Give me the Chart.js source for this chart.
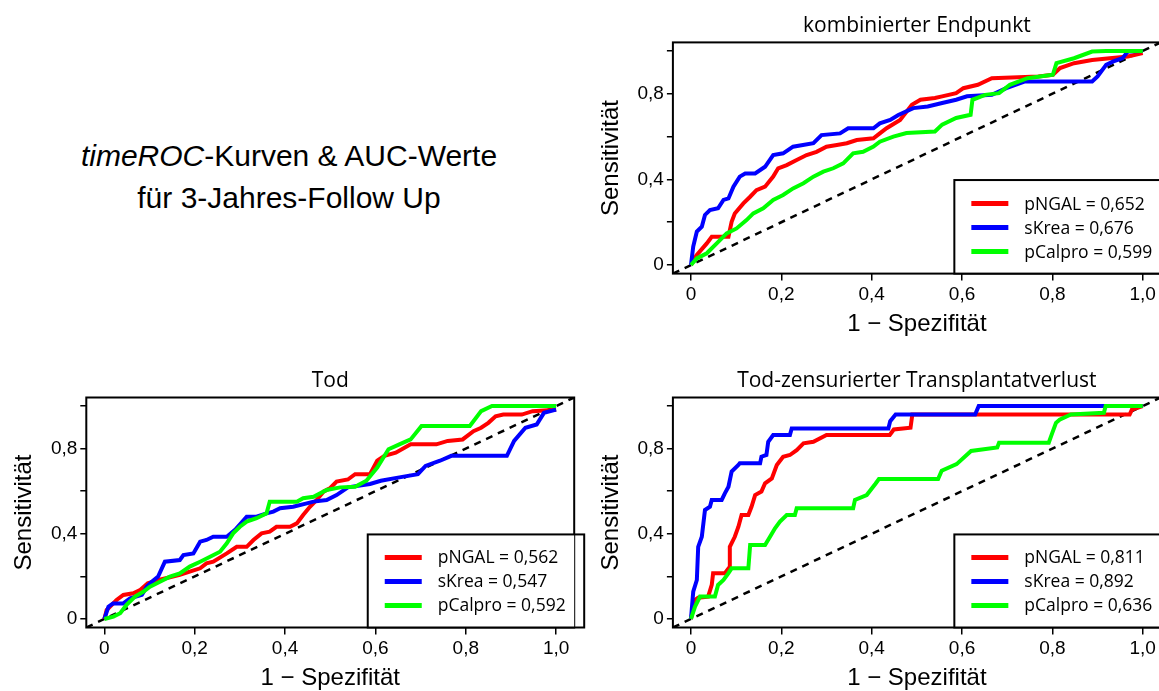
<!DOCTYPE html>
<html><head><meta charset="utf-8">
<script src="https://cdn.jsdelivr.net/npm/chart.js@4.4.0/dist/chart.umd.min.js"></script>
<style>
html,body{margin:0;padding:0;background:#fff;overflow:hidden;width:1159px;height:691px;}
#mainTitle{position:absolute;left:0;top:134.6px;width:578px;text-align:center;font-family:"Liberation Sans",Arial,sans-serif;font-size:30px;line-height:42px;color:#000;}
canvas{position:absolute;}
</style></head><body>
<div id="mainTitle"><i>timeROC</i>-Kurven &amp; AUC-Werte<br>für 3-Jahres-Follow Up</div>
<canvas id="cA" width="600" height="345" style="left:590px;top:0px"></canvas>
<canvas id="cB" width="590" height="345" style="left:0px;top:355px"></canvas>
<canvas id="cC" width="600" height="345" style="left:590px;top:355px"></canvas>
<script>
// ---------- categories / labels ----------
const seriesNames = ['pNGAL', 'sKrea', 'pCalpro'];
const plotTitles = ['kombinierter Endpunkt', 'Tod', 'Tod-zensurierter Transplantatverlust'];
const aucKomb = ['0,652', '0,676', '0,599'];
const aucTod = ['0,562', '0,547', '0,592'];
const aucTzt = ['0,811', '0,892', '0,636'];
const xTickValues = [0, 0.2, 0.4, 0.6, 0.8, 1.0];
const xTickLabels = ['0', '0,2', '0,4', '0,6', '0,8', '1,0'];
const yTickValues = [0, 0.2, 0.4, 0.6, 0.8, 1.0];
const yTickLabels = ['0', '', '0,4', '', '0,8', ''];
const refLine = [-0.04, 1.04];

// ---------- kombinierter Endpunkt ----------
const kombX_pNGAL = [0,0.012,0.035,0.046,0.083,0.09,0.097,0.116,0.131,0.145,0.164,0.182,0.193,0.212,0.234,0.256,0.278,0.300,0.323,0.345,0.367,0.404,0.418,0.433,0.463,0.489,0.508,0.540,0.556,0.587,0.603,0.635,0.666,0.769,0.801,0.817,0.848,0.888,0.927,0.967,1.0];
const kombY_pNGAL = [0,0.045,0.101,0.132,0.132,0.202,0.241,0.288,0.319,0.35,0.366,0.413,0.452,0.467,0.491,0.514,0.529,0.553,0.561,0.569,0.584,0.592,0.615,0.639,0.678,0.749,0.772,0.780,0.788,0.803,0.826,0.842,0.873,0.881,0.889,0.920,0.943,0.958,0.966,0.974,0.99];
const kombX_sKrea = [0,0.005,0.013,0.024,0.031,0.042,0.06,0.072,0.083,0.094,0.108,0.12,0.142,0.164,0.182,0.204,0.226,0.271,0.289,0.33,0.348,0.404,0.418,0.441,0.459,0.492,0.524,0.556,0.587,0.611,0.666,0.698,0.738,0.888,0.900,0.919,0.935,0.955,0.967,1.0];
const kombY_sKrea = [0,0.086,0.156,0.179,0.234,0.257,0.265,0.304,0.311,0.366,0.413,0.428,0.428,0.459,0.514,0.522,0.553,0.569,0.607,0.615,0.639,0.639,0.662,0.678,0.701,0.733,0.741,0.757,0.772,0.788,0.795,0.826,0.857,0.857,0.881,0.935,0.951,0.966,0.997,1.0];
const kombX_pCalpro = [0,0.013,0.035,0.057,0.079,0.101,0.123,0.138,0.16,0.182,0.204,0.226,0.249,0.271,0.293,0.315,0.337,0.359,0.381,0.404,0.418,0.448,0.477,0.540,0.556,0.587,0.619,0.623,0.651,0.682,0.706,0.745,0.801,0.809,0.848,0.888,0.919,1.0];
const kombY_pCalpro = [0,0.031,0.055,0.101,0.148,0.171,0.21,0.241,0.265,0.304,0.327,0.358,0.382,0.413,0.436,0.452,0.475,0.522,0.529,0.553,0.576,0.60,0.617,0.624,0.656,0.687,0.702,0.772,0.795,0.803,0.842,0.873,0.889,0.943,0.966,0.997,1.0,1.0];

// ---------- Tod ----------
const todX_pNGAL = [0,0.005,0.027,0.042,0.064,0.08,0.096,0.12,0.145,0.167,0.189,0.212,0.226,0.241,0.271,0.293,0.315,0.33,0.348,0.366,0.381,0.411,0.426,0.44,0.455,0.47,0.485,0.5,0.514,0.539,0.555,0.588,0.604,0.62,0.645,0.678,0.735,0.76,0.793,0.817,0.834,0.85,0.866,0.883,0.924,0.948,1.0];
const todY_pNGAL = [0,0.042,0.089,0.113,0.121,0.137,0.168,0.183,0.196,0.207,0.222,0.238,0.261,0.269,0.308,0.339,0.339,0.371,0.402,0.41,0.433,0.433,0.449,0.488,0.527,0.559,0.598,0.615,0.645,0.655,0.68,0.68,0.743,0.766,0.781,0.82,0.82,0.836,0.843,0.882,0.898,0.921,0.952,0.96,0.96,0.976,0.983];
const todX_sKrea = [0,0.009,0.019,0.042,0.057,0.083,0.094,0.105,0.119,0.134,0.167,0.175,0.197,0.212,0.226,0.241,0.271,0.29,0.315,0.337,0.359,0.374,0.389,0.418,0.448,0.463,0.492,0.514,0.539,0.588,0.612,0.653,0.694,0.711,0.743,0.768,0.891,0.907,0.932,0.957,0.973,1.0];
const todY_sKrea = [0,0.058,0.073,0.073,0.097,0.113,0.152,0.175,0.199,0.269,0.277,0.30,0.308,0.363,0.371,0.386,0.386,0.42,0.48,0.48,0.496,0.504,0.52,0.527,0.543,0.551,0.559,0.582,0.618,0.634,0.649,0.665,0.68,0.719,0.743,0.766,0.766,0.836,0.898,0.913,0.968,0.983];
const todX_pCalpro = [0,0.02,0.035,0.049,0.068,0.086,0.101,0.123,0.145,0.167,0.189,0.212,0.234,0.256,0.271,0.285,0.30,0.315,0.337,0.359,0.366,0.426,0.44,0.463,0.492,0.522,0.555,0.58,0.604,0.629,0.653,0.678,0.702,0.809,0.834,0.858,1.0];
const todY_pCalpro = [0,0.011,0.027,0.066,0.105,0.128,0.152,0.175,0.199,0.214,0.246,0.269,0.292,0.316,0.355,0.402,0.433,0.457,0.473,0.496,0.551,0.551,0.567,0.574,0.606,0.618,0.621,0.649,0.711,0.797,0.82,0.843,0.906,0.906,0.976,1.0,1.0];

// ---------- Tod-zensurierter Transplantatverlust ----------
const tztX_pNGAL = [0,0.009,0.016,0.038,0.046,0.049,0.075,0.086,0.086,0.097,0.105,0.112,0.127,0.134,0.142,0.156,0.164,0.179,0.19,0.204,0.219,0.234,0.249,0.271,0.30,0.44,0.449,0.486,0.49,0.971,0.976,1.0];
const tztY_pNGAL = [0,0.089,0.1,0.105,0.16,0.215,0.215,0.246,0.339,0.386,0.433,0.488,0.488,0.527,0.582,0.598,0.637,0.66,0.723,0.762,0.77,0.793,0.825,0.832,0.864,0.864,0.89,0.898,0.96,0.96,0.983,1.0];
const tztX_sKrea = [0,0.005,0.013,0.016,0.024,0.031,0.042,0.046,0.068,0.075,0.083,0.09,0.105,0.108,0.153,0.156,0.167,0.171,0.182,0.219,0.223,0.437,0.441,0.453,0.629,0.637,1.0];
const tztY_sKrea = [0,0.128,0.183,0.339,0.386,0.512,0.527,0.559,0.559,0.59,0.621,0.692,0.723,0.731,0.731,0.762,0.77,0.832,0.864,0.864,0.895,0.895,0.929,0.96,0.96,1.0,1.0];
const tztX_pCalpro = [0,0.009,0.02,0.053,0.06,0.072,0.083,0.09,0.127,0.131,0.164,0.175,0.186,0.197,0.212,0.23,0.234,0.359,0.363,0.389,0.408,0.416,0.547,0.555,0.588,0.620,0.678,0.682,0.792,0.800,0.808,0.816,0.841,0.914,0.918,1.0];
const tztY_pCalpro = [0,0.058,0.105,0.105,0.16,0.183,0.215,0.238,0.238,0.347,0.347,0.386,0.426,0.457,0.488,0.488,0.52,0.52,0.559,0.582,0.634,0.657,0.657,0.696,0.727,0.789,0.805,0.828,0.828,0.875,0.921,0.936,0.96,0.968,1.0,1.0];

const seriesColors = ['#ff0000', '#0000ff', '#00ff00'];

function pts(xs, ys) { return xs.map((x, i) => ({ x: x, y: ys[i] })); }

const framePlugin = {
  id: 'frame',
  afterDraw(chart, args, o) {
    const ctx = chart.ctx, a = chart.chartArea, sx = chart.scales.x, sy = chart.scales.y;
    ctx.save();
    ctx.strokeStyle = '#000';
    ctx.lineWidth = 2;
    ctx.strokeRect(a.left, a.top, a.right - a.left, a.bottom - a.top);
    // legend
    const lx = sx.getPixelForValue(o.legendX);
    const ly = sy.getPixelForValue(o.legendY);
    ctx.fillStyle = '#fff';
    ctx.fillRect(lx, ly, a.right - lx, a.bottom - ly);
    ctx.strokeRect(lx, ly, a.right - lx + 10, a.bottom - ly);
    const rows = [70, 46, 22];
    ctx.font = '17.5px "Open Sans"';
    ctx.textBaseline = 'middle';
    ctx.textAlign = 'left';
    for (let i = 0; i < 3; i++) {
      const yy = a.bottom - rows[i];
      ctx.strokeStyle = seriesColors[i];
      ctx.lineWidth = 5;
      ctx.beginPath(); ctx.moveTo(lx + 17, yy); ctx.lineTo(lx + 54, yy); ctx.stroke();
      ctx.fillStyle = '#000';
      ctx.fillText(o.labels[i], lx + 70, yy + 1);
    }
    // plot title, centred over the plot box
    ctx.font = '21px "Open Sans"';
    ctx.textAlign = 'center';
    ctx.textBaseline = 'alphabetic';
    ctx.fillStyle = '#000';
    ctx.fillText(o.title, (a.left + a.right) / 2, a.top - 10.5);
    ctx.restore();
  }
};

function makePlot(id, cw, ch, area, xs, ys, labels, title, yTitlePad, xTitlePad) {
  const datasets = [];
  for (let i = 0; i < 3; i++) {
    datasets.push({ data: pts(xs[i], ys[i]), borderColor: seriesColors[i], borderWidth: 4, showLine: true, pointRadius: 0, tension: 0, order: 3 - i });
  }
  datasets.push({ data: pts(refLine, refLine), borderColor: '#000', borderWidth: 2.5, borderDash: [7, 6], showLine: true, pointRadius: 0, order: 10 });
  const tickFont = { family: '"Liberation Sans", Arial, sans-serif', size: 19 };
  const titleFont = { family: '"Liberation Sans", Arial, sans-serif', size: 24 };
  new Chart(document.getElementById(id), {
    type: 'scatter',
    data: { datasets: datasets },
    options: {
      responsive: false, animation: false, devicePixelRatio: 1,
      layout: { padding: { left: 0, top: area.top, right: cw - area.right, bottom: 0 } },
      plugins: {
        legend: { display: false }, tooltip: { enabled: false },
        frame: { legendX: 0.583, legendY: 0.397, labels: labels, title: title }
      },
      scales: {
        x: {
          type: 'linear', min: -0.04, max: 1.04,
          afterBuildTicks: s => { s.ticks = xTickValues.map(v => ({ value: v })); },
          afterFit: s => { s.height = ch - area.bottom; },
          ticks: { autoSkip: false, maxRotation: 0, padding: 2.6, color: '#000', font: tickFont, callback: (v, i) => xTickLabels[i] },
          grid: { display: true, drawOnChartArea: false, drawTicks: true, tickLength: 7, color: '#000', lineWidth: 1.5 },
          border: { display: false },
          title: { display: true, text: '1 \u2212 Spezifit\u00e4t', color: '#000', font: titleFont, padding: { top: 0, bottom: xTitlePad } }
        },
        y: {
          type: 'linear', min: -0.04, max: 1.04,
          afterBuildTicks: s => { s.ticks = yTickValues.map(v => ({ value: v })); },
          afterFit: s => { s.width = area.left; },
          ticks: { autoSkip: false, padding: 3, color: '#000', font: tickFont, callback: (v, i) => yTickLabels[i] },
          grid: { display: true, drawOnChartArea: false, drawTicks: true, tickLength: 6, color: '#000', lineWidth: 1.5 },
          border: { display: false },
          title: { display: true, text: 'Sensitivit\u00e4t', color: '#000', font: titleFont, padding: { top: yTitlePad, bottom: 0 } }
        }
      }
    },
    plugins: [framePlugin]
  });
}

function legendLabels(aucs) { return seriesNames.map((n, i) => n + ' = ' + aucs[i]); }

// Plot A: top right (canvas at 590,0)
makePlot('cA', 600, 345, { left: 82.9, top: 42.4, right: 570.8, bottom: 273.6 },
  [kombX_pNGAL, kombX_sKrea, kombX_pCalpro], [kombY_pNGAL, kombY_sKrea, kombY_pCalpro],
  legendLabels(aucKomb), plotTitles[0], 7.3, 6.3);
// Plot B: bottom left (canvas at 0,355)
makePlot('cB', 590, 345, { left: 86.3, top: 42.5, right: 574.2, bottom: 272.5 },
  [todX_pNGAL, todX_sKrea, todX_pCalpro], [todY_pNGAL, todY_sKrea, todY_pCalpro],
  legendLabels(aucTod), plotTitles[1], 10.3, 7.4);
// Plot C: bottom right (canvas at 590,355)
makePlot('cC', 600, 345, { left: 82.9, top: 42.5, right: 570.8, bottom: 272.5 },
  [tztX_pNGAL, tztX_sKrea, tztX_pCalpro], [tztY_pNGAL, tztY_sKrea, tztY_pCalpro],
  legendLabels(aucTzt), plotTitles[2], 7.3, 7.4);
</script>
</body></html>
